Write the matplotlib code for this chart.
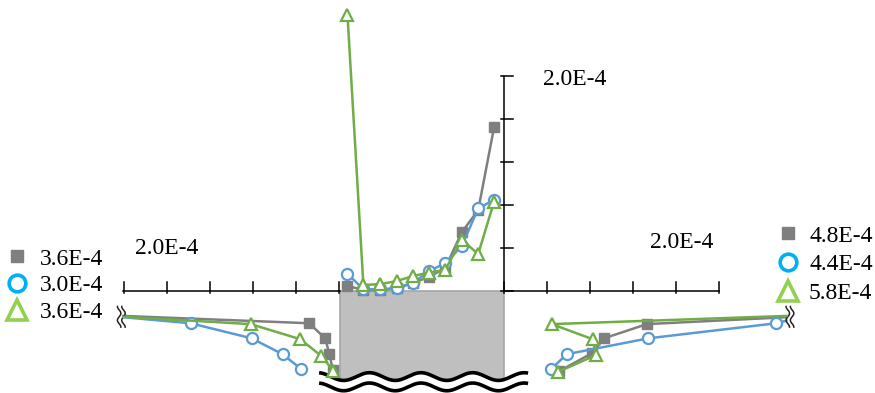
import numpy as np
import matplotlib.pyplot as plt
from matplotlib.lines import Line2D
from matplotlib.patches import Rectangle

plt.rcParams['font.family'] = ['Liberation Serif', 'DejaVu Serif']

# scale: one tick = 1 unit, origin at foot of the vertical axis
GRAY = '#7f7f7f'
BLUE = '#5b9bd5'
GREEN = '#70ad47'

# center profile (above excavation)
x_mid = [-3.64, -3.27, -2.88, -2.50, -2.11, -1.74, -1.37, -0.98, -0.60, -0.23]
mid_gray = [0.12, 0.02, 0.02, 0.07, 0.19, 0.33, 0.53, 1.37, 1.88, 3.81]
mid_blue = [0.40, 0.04, 0.04, 0.06, 0.19, 0.47, 0.64, 1.05, 1.92, 2.12]
mid_green = [6.42, 0.14, 0.16, 0.23, 0.35, 0.43, 0.49, 1.19, 0.86, 2.08]

# left wall profiles (first point sits on the axis break)
left_break = -8.85
left_gray_x = [-4.53, -4.16, -4.06, -3.98]
left_gray_y = [-0.58, -0.75, -1.10, -1.47, -1.84]
left_blue_x = [-7.29, -5.87, -5.15, -4.71]
left_blue_y = [-0.61, -0.75, -1.10, -1.47, -1.82]
left_green_x = [-5.89, -4.74, -4.26, -3.97]
left_green_y = [-0.60, -0.77, -1.12, -1.50, -1.85]

# right wall profiles (last point sits on the axis break)
right_break = 6.57
right_gray_x = [3.32, 2.33, 2.04, 1.29]
right_gray_y = [-0.61, -0.77, -1.10, -1.45, -1.86]
right_blue_x = [6.33, 3.36, 1.46, 1.09]
right_blue_y = [-0.69, -0.75, -1.10, -1.47, -1.82]
right_green_x = [1.11, 2.06, 2.14, 1.26]
right_green_y = [-0.58, -0.77, -1.12, -1.49, -1.88]

left_labels = ['3.6E-4', '3.0E-4', '3.6E-4']
right_labels = ['4.8E-4', '4.4E-4', '5.8E-4']
scale_label = '2.0E-4'

FS = 17

fig = plt.figure(figsize=(8.75, 3.93), dpi=100)
ax = fig.add_axes([0, 0, 1, 1])
ax.set_xlim(-504 / 43, 371 / 43)
ax.set_ylim(-102 / 43, 291 / 43)
ax.axis('off')

# excavation block
ax.add_patch(Rectangle((-3.82, -2.3), 3.82, 2.3, facecolor='#bfbfbf',
                       edgecolor='#a6a6a6', lw=1.2, zorder=1))
xw = np.linspace(-4.3, 0.56, 300)
wave = 0.09 * np.sin(2 * np.pi * (xw + 3.43) / 1.2)
ax.fill_between(xw, -1.99 + wave, -2.6, color='white', zorder=2)
ax.plot(xw, -1.99 + wave, color='black', lw=2.6, zorder=3, solid_capstyle='butt')
ax.plot(xw, -2.23 + wave, color='black', lw=2.6, zorder=3, solid_capstyle='butt')

# axes
ax.plot([-8.86, -3.82], [0, 0], color='black', lw=1.1, zorder=2)
ax.plot([0, 5.0], [0, 0], color='black', lw=1.1, zorder=2)
ax.plot([0, 0], [0, 5.0], color='black', lw=1.1, zorder=2)
for k in range(6):
    ax.plot([-3.84 - k] * 2, [-0.05, 0.22], color='black', lw=1.1, zorder=2)
    ax.plot([k] * 2, [-0.05, 0.22], color='black', lw=1.1, zorder=2)
    ax.plot([-0.07, 0.21], [k] * 2, color='black', lw=1.1, zorder=2)

# axis breaks
yb = np.linspace(-0.24, 0.24, 60)
for xb in (left_break - 0.05, right_break + 0.08):
    for dx in (-0.05, 0.05):
        ax.plot(xb + dx + 0.04 * np.sin(2 * np.pi * yb / 0.32), yb - 0.6,
                color='#222222', lw=1.1, zorder=6)

sq = dict(marker='s', markersize=6.5, lw=1.8, zorder=4)
ci = dict(marker='o', markersize=8, markerfacecolor='white', markeredgewidth=1.6, lw=1.8, zorder=5)
tr = dict(marker='^', markersize=8.5, markerfacecolor='white', markeredgewidth=1.6, lw=1.8, zorder=6)

ax.plot(x_mid, mid_gray, color=GRAY, **sq)
ax.plot(x_mid, mid_blue, color=BLUE, **ci)
ax.plot(x_mid, mid_green, color=GREEN, **tr)

for bx, xs, ys, c, st in [
        (left_break, left_gray_x, left_gray_y, GRAY, sq),
        (left_break, left_blue_x, left_blue_y, BLUE, ci),
        (left_break, left_green_x, left_green_y, GREEN, tr),
        (right_break, right_gray_x, right_gray_y, GRAY, sq),
        (right_break, right_blue_x, right_blue_y, BLUE, ci),
        (right_break, right_green_x, right_green_y, GREEN, tr)]:
    ax.plot([bx] + xs, ys, color=c, markevery=list(range(1, 5)), **st)

# scale labels
ax.text(-8.58, 1.0, scale_label, fontsize=FS, va='center')
ax.text(3.40, 1.12, scale_label, fontsize=FS, va='center')
ax.text(0.91, 4.92, scale_label, fontsize=FS, va='center')

def handles():
    return [Line2D([], [], ls='none', marker='s', markersize=8, color=GRAY),
            Line2D([], [], ls='none', marker='o', markersize=12, markerfacecolor='none',
                   markeredgecolor='#00b0f0', markeredgewidth=2.6),
            Line2D([], [], ls='none', marker='^', markersize=14, markerfacecolor='none',
                   markeredgecolor='#92d050', markeredgewidth=2.6)]

fig.legend(handles(), left_labels, loc='upper left', bbox_to_anchor=(5 / 875, 1 - 248 / 393),
           frameon=False, fontsize=FS, handlelength=1.0, handletextpad=0.48,
           labelspacing=0.22, borderpad=0, borderaxespad=0)
fig.legend(handles(), right_labels, loc='upper left', bbox_to_anchor=(776 / 875, 1 - 225 / 393),
           frameon=False, fontsize=FS, handlelength=1.0, handletextpad=0.4,
           labelspacing=0.31, borderpad=0, borderaxespad=0)

fig.savefig('out.png', dpi=100)
